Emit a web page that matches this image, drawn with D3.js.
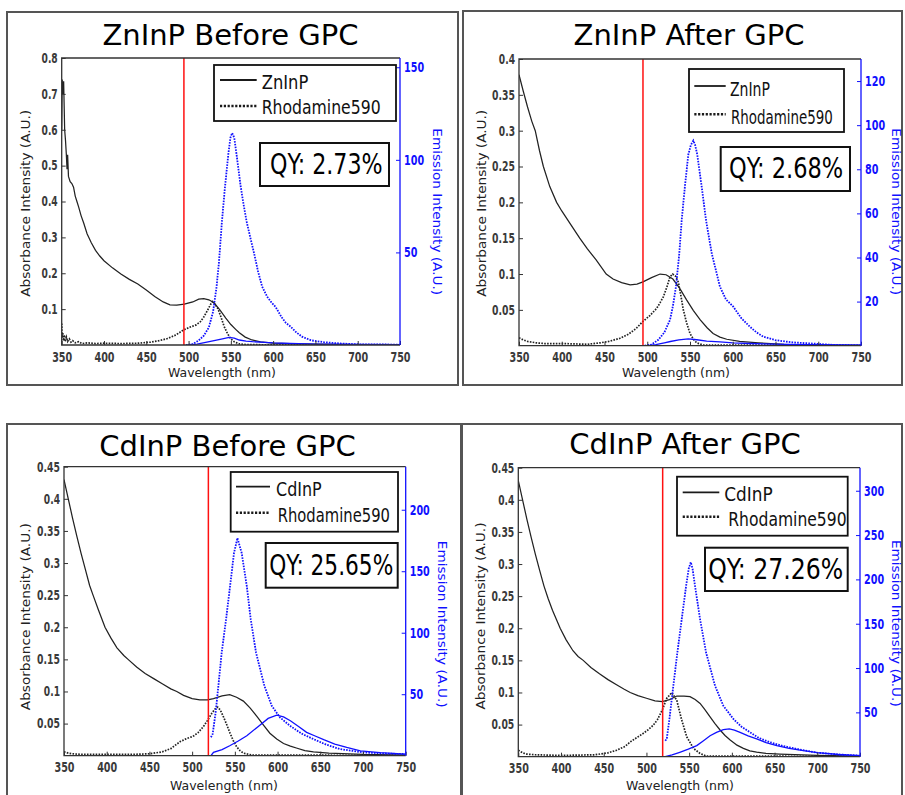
<!DOCTYPE html>
<html><head><meta charset="utf-8">
<script src="https://cdn.jsdelivr.net/npm/d3@7"></script>
<style>
html,body{margin:0;padding:0;background:#fff;}
svg{display:block;}
</style></head>
<body><svg id="chart" width="905" height="795"></svg>
<script>
// ---------------- DATA ----------------
const wavelengthTicks = [350,400,450,500,550,600,650,700,750];

// Panel titles / legend / QY
const panelTitles = ["ZnInP Before GPC","ZnInP After GPC","CdInP Before GPC","CdInP After GPC"];
const sampleNames = ["ZnInP","ZnInP","CdInP","CdInP"];
const referenceName = "Rhodamine590";
const qyLabels = ["QY: 2.73%","QY: 2.68%","QY: 25.65%","QY: 27.26%"];
const excitationLines = [494.5,495,519,519];

// Axis ticks
const absTicks1 = [0.1,0.2,0.3,0.4,0.5,0.6,0.7,0.8];
const absTicks2 = [0.05,0.1,0.15,0.2,0.25,0.3,0.35,0.4];
const absTicks3 = [0.05,0.1,0.15,0.2,0.25,0.3,0.35,0.4,0.45];
const absTicks4 = [0.05,0.1,0.15,0.2,0.25,0.3,0.35,0.4,0.45];
const emTicks1 = [50,100,150];
const emTicks2 = [20,40,60,80,100,120];
const emTicks3 = [50,100,150,200];
const emTicks4 = [50,100,150,200,250,300];
const absMax = [0.8,0.4,0.45,0.45];
const emMax = [155,130,235,326];

// Panel 1: ZnInP before GPC
const znBeforeAbsSample = [[350,0.60],[350.6,0.74],[351.5,0.70],[352.3,0.735],[353.5,0.60],[354.5,0.57],[355.5,0.53],[356.3,0.49],[357,0.53],[358,0.47],[360,0.455],[362,0.45],[364,0.44],[366,0.415],[368,0.40],[370,0.385],[373,0.36],[376,0.34],[380,0.31],[385,0.285],[390,0.264],[395,0.248],[400,0.235],[410,0.215],[420,0.198],[430,0.183],[440,0.17],[450,0.153],[460,0.135],[470,0.12],[478,0.112],[486,0.111],[495,0.114],[505,0.12],[512,0.128],[518,0.129],[524,0.126],[530,0.118],[537,0.098],[544,0.075],[550,0.057],[556,0.043],[560,0.034],[567,0.022],[575,0.014],[585,0.009],[600,0.005],[630,0.003],[700,0.001],[750,0.0005]];
const znBeforeAbsRef = [[350,0.06],[350.5,0.02],[351.2,0.035],[352,0.012],[353,0.028],[354,0.01],[355.5,0.022],[357,0.01],[359,0.017],[361,0.008],[363,0.012],[366,0.006],[370,0.009],[374,0.004],[380,0.006],[390,0.004],[400,0.005],[420,0.004],[440,0.005],[455,0.008],[465,0.012],[475,0.018],[485,0.028],[494,0.042],[502,0.05],[509,0.056],[514,0.065],[518,0.078],[522.5,0.097],[526,0.113],[528.4,0.121],[531,0.115],[535,0.1],[538,0.08],[542,0.052],[546,0.032],[550,0.017],[554,0.009],[560,0.003],[570,0.001],[600,0.0005],[750,0.0003]];
const znBeforeEmRef = [[497,0],[505,0.5],[512,2.5],[518,5],[524,9.5],[529,18],[533,31],[536,45],[539.5,67],[543,85],[547,103],[549.5,112],[551.5,114.5],[554,112],[557,102],[561.5,86],[565,76],[568.5,67],[573,58],[577.5,49.5],[582,40],[587,31.5],[593,26],[598,23],[603,20.5],[610,15],[615,12],[620.5,10],[627,7],[634,4.5],[645,2.5],[660,1.5],[680,0.8],[700,0.4],[750,0.2]];
const znBeforeEmSample = [[499,0],[510,0.5],[524.5,1.8],[533,2.6],[540,3.3],[548,4.1],[554,3.7],[560,2.7],[568,2.1],[575.5,1.8],[590,1.4],[600,1.1],[620,0.8],[650,0.5],[700,0.3],[750,0.2]];

// Panel 2: ZnInP after GPC
const znAfterAbsSample = [[350,0.378],[355,0.355],[360,0.333],[365,0.313],[369,0.30],[374,0.272],[378.5,0.25],[386,0.222],[394,0.20],[400,0.188],[410,0.17],[421,0.15],[430,0.135],[440,0.12],[452,0.10],[460,0.093],[470,0.088],[480,0.085],[488,0.086],[495,0.089],[505,0.095],[515,0.1],[522,0.099],[530,0.093],[538,0.08],[546,0.064],[554,0.049],[562,0.036],[570,0.025],[577,0.017],[585,0.012],[593,0.009],[608,0.006],[630,0.004],[660,0.002],[700,0.001],[750,0.0005]];
const znAfterAbsRef = [[350,0.011],[355,0.008],[360,0.006],[370,0.004],[380,0.003],[400,0.003],[430,0.002],[445,0.004],[455,0.006],[468,0.0103],[478,0.016],[487,0.024],[494.6,0.0335],[503,0.042],[511,0.052],[515,0.06],[518.8,0.068],[523,0.082],[526.6,0.096],[529.7,0.1],[533,0.097],[536.3,0.089],[539,0.072],[542.2,0.05],[546,0.032],[550,0.017],[554,0.009],[557.8,0.004],[565,0.001],[750,0.0005]];
const znAfterEmRef = [[497,0],[505,0.5],[513,2.7],[520,6],[526.6,11.7],[530,18],[533.6,26.8],[537.5,41.9],[540.3,57],[544,72],[548,86.6],[551,91],[553.9,93],[556,91],[558.5,86.6],[563.7,72],[568.7,57],[575.4,41.9],[585,26.8],[592,21],[600.6,17.7],[610,12.5],[620,8.6],[628,6],[635.7,4.1],[650,2.5],[670,1.5],[700,0.8],[720,0.3],[750,0.1]];
const znAfterEmSample = [[500,0],[510,0.5],[520,1.3],[527,1.9],[537,2.6],[548,3.1],[558,2.7],[569.5,2.1],[585,1.7],[600,1.3],[620,1],[650,0.7],[700,0.4],[750,0.2]];

// Panel 3: CdInP before GPC
const cdBeforeAbsSample = [[350,0.43],[355,0.40],[360,0.37],[365,0.342],[370,0.315],[375,0.29],[380,0.265],[384,0.25],[390,0.228],[398,0.20],[405,0.183],[412,0.168],[420,0.156],[425,0.15],[435,0.138],[445,0.128],[455,0.12],[465,0.112],[475,0.104],[482,0.1],[490,0.094],[500,0.089],[509,0.087],[518,0.087],[525,0.089],[535,0.093],[544,0.095],[552,0.091],[560,0.085],[568,0.074],[576,0.061],[584,0.047],[591,0.035],[599,0.026],[607,0.019],[615,0.015],[622,0.012],[632,0.008],[642,0.006],[660,0.004],[700,0.002],[750,0.001]];
const cdBeforeAbsRef = [[350,0.006],[355,0.004],[360,0.003],[370,0.002],[400,0.002],[430,0.002],[450,0.003],[465,0.006],[475,0.011],[486,0.022],[494,0.027],[501,0.03],[507,0.036],[513,0.045],[518,0.055],[523,0.066],[527,0.073],[530,0.0757],[533,0.071],[536.5,0.061],[540,0.05],[544.4,0.035],[548,0.024],[552,0.014],[556,0.008],[560,0.004],[570,0.001],[750,0.0005]];
const cdBeforeEmRef = [[522,15],[524,17.6],[527.5,35],[530.7,56.7],[534.6,83.8],[539.7,110.8],[544.4,137.8],[549,164.8],[553,177],[558,164.8],[564,137.8],[568.6,110.8],[574.8,83.8],[584.6,56.7],[593.2,40.5],[603,31],[614.6,24.3],[628,18],[641.9,13.5],[657,9],[673,5.4],[700,2.7],[725,1.8],[750,1.3]];
const cdBeforeEmSample = [[522,0],[525,2.7],[535,5],[544,8.1],[554,12],[564,16.2],[576,23],[589,30.3],[599,33],[607,31.5],[615,28.4],[625,23.5],[634,19],[644,16],[654,13],[667,9.5],[681,6.8],[697,4],[720,2.5],[750,1.3]];

// Panel 4: CdInP after GPC
const cdAfterAbsSample = [[350,0.43],[355,0.40],[360,0.37],[365,0.342],[370,0.315],[375,0.29],[380,0.266],[385,0.246],[390,0.228],[399,0.2],[406,0.182],[414,0.165],[420,0.156],[426,0.15],[435,0.139],[445,0.129],[455,0.12],[465,0.112],[474,0.105],[481,0.1],[490,0.095],[500,0.091],[510,0.087],[518.6,0.0857],[527,0.089],[535.5,0.0945],[544,0.0945],[551,0.0935],[557,0.089],[562.8,0.083],[568,0.074],[574.5,0.062],[580,0.052],[586.2,0.0416],[592,0.033],[598,0.026],[606,0.018],[613.5,0.013],[621,0.009],[629,0.007],[640,0.005],[656,0.004],[700,0.002],[750,0.001]];
const cdAfterAbsRef = [[350,0.01],[355,0.006],[360,0.004],[370,0.003],[400,0.002],[440,0.003],[455,0.006],[465,0.01],[475,0.016],[481,0.023],[489,0.03],[496,0.036],[502,0.042],[508,0.049],[513,0.058],[518.6,0.073],[523.8,0.091],[529.6,0.0997],[535.5,0.088],[541.3,0.057],[547.2,0.031],[555,0.013],[562.8,0.005],[570,0.001],[750,0.0005]];
const cdAfterEmRef = [[522,18],[523.8,20],[526.9,42.5],[531.5,80],[536.2,117.5],[541.3,155],[546.4,192.4],[549.5,212],[551.9,219.4],[554,212],[556.9,192.4],[562.8,155],[569.8,117.5],[580.3,80],[590,57.5],[601.8,42.5],[611,34],[621.3,27.5],[632,21],[644.7,16.3],[660,12],[676,8.8],[700,4.5],[725,2.5],[750,1.2]];
const cdAfterEmSample = [[522,0],[530,2],[539,5],[549,8.5],[558.9,12.5],[566,17.5],[574.5,23.7],[582,27.5],[590,30.5],[597,31.3],[603,30],[609.6,27.5],[619,23.5],[629,20],[640,16],[652.6,12.5],[667,9.5],[683.7,6.9],[700,4.5],[725,2.5],[750,1.2]];

// ---------------- LAYOUT ----------------
const layouts = [
  {frame:[7,12,458,385], L:61.7,R:400,T:58,B:345, titleX:230.5,titleY:45,
   leg:[214,65,396,121], l1y:80,l2y:106,lx1:220,lx2:256.7,t1x:261.7,t1y:89.3,t1w:46.6,t2x:261.7,t2y:114.3,t2w:119,
   qy:[260,143,389,186], qx:270,qyY:174,qw:112.7, xlab:[222,377], ylab:[25.7,203.3], rlab:[437.5,211.7]},
  {frame:[463,11,902,385], L:519,R:861,T:59,B:345.7, titleX:689,titleY:45,
   leg:[689,69,844,132], l1y:86,l2y:114.3,lx1:694.3,lx2:725.7,t1x:730,t1y:96,t1w:40,t2x:731,t2y:124.3,t2w:102,
   qy:[720.7,147,850,191], qx:729,qyY:178.3,qw:114.3, xlab:[676,377], ylab:[481.7,203.3], rlab:[896.7,211.7]},
  {frame:[7,424,461,805], L:64,R:405.7,T:466.7,B:755.7, titleX:227.5,titleY:455.7,
   leg:[230.7,472,398,531.7], l1y:486.7,l2y:512.7,lx1:236,lx2:270,t1x:276,t1y:496,t1w:45.7,t2x:277.7,t2y:521.7,t2w:112.3,
   qy:[265.7,543,397.7,587.7], qx:269.3,qyY:575,qw:124, xlab:[224,790], ylab:[25.7,616.7], rlab:[442,624.2]},
  {frame:[462,424,902,805], L:518.3,R:860,T:467.7,B:756.7, titleX:685,titleY:454,
   leg:[677,476.7,847.7,535.7], l1y:492.3,l2y:516.7,lx1:682.7,lx2:719.3,t1x:724.3,t1y:501,t1w:48.4,t2x:728.3,t2y:526,t2w:118.4,
   qy:[705,547.7,847.7,591], qx:708.3,qyY:579,qw:135, xlab:[680,790], ylab:[481,616], rlab:[896.5,623.3]}
];

const panelSeries = [
  [znBeforeAbsSample, znBeforeAbsRef, znBeforeEmRef, znBeforeEmSample],
  [znAfterAbsSample, znAfterAbsRef, znAfterEmRef, znAfterEmSample],
  [cdBeforeAbsSample, cdBeforeAbsRef, cdBeforeEmRef, cdBeforeEmSample],
  [cdAfterAbsSample, cdAfterAbsRef, cdAfterEmRef, cdAfterEmSample]
];
const absTickSets = [absTicks1,absTicks2,absTicks3,absTicks4];
const emTickSets = [emTicks1,emTicks2,emTicks3,emTicks4];

const BLUE = "#1010ff";
const BLACK = "#1a1a1a";
const narrow = "'Liberation Sans Narrow','DejaVu Sans Condensed','Liberation Sans',sans-serif";
const tickFont = "'DejaVu Sans',sans-serif";

const svg = d3.select("#chart");
svg.append("rect").attr("width",905).attr("height",795).attr("fill","#fff");

function fmt(d){ return String(+d.toFixed(3)); }
function tickWidth(s){
  let w = 0;
  for (const c of s) w += (c === ".") ? 2.8 : 6.7;
  return w;
}
// horizontally squeeze/stretch a text element around its anchor x to a target width
function fitWidth(node, target){
  const n = node.getComputedTextLength();
  if (!n) return;
  const s = target / n;
  const x0 = parseFloat(node.getAttribute("x")) || 0;
  const prev = node.getAttribute("transform") || "";
  node.setAttribute("transform", `${prev} translate(${x0},0) scale(${s},1) translate(${-x0},0)`.trim());
}

function drawPanel(i){
  const p = layouts[i];
  const [absS, absR, emR, emS] = panelSeries[i];
  const g = svg.append("g");

  // frame
  g.append("rect").attr("x",p.frame[0]).attr("y",p.frame[1])
    .attr("width",p.frame[2]-p.frame[0]).attr("height",p.frame[3]-p.frame[1])
    .attr("fill","none").attr("stroke","#555").attr("stroke-width",2);

  // title
  g.append("text").attr("x",p.titleX).attr("y",p.titleY).attr("text-anchor","middle")
    .style("font-family","'DejaVu Sans',Verdana,sans-serif").style("font-size","29px")
    .attr("fill","#000").text(panelTitles[i]);

  const x = d3.scaleLinear().domain([350,750]).range([p.L,p.R]);
  const yL = d3.scaleLinear().domain([0,absMax[i]]).range([p.B,p.T]);
  const yR = d3.scaleLinear().domain([0,emMax[i]]).range([p.B,p.T]);

  const clipId = "clip"+i;
  svg.append("clipPath").attr("id",clipId).append("rect")
    .attr("x",p.L).attr("y",p.T).attr("width",p.R-p.L).attr("height",p.B-p.T);
  const plot = g.append("g").attr("clip-path",`url(#${clipId})`);

  const lineL = d3.line().x(d=>x(d[0])).y(d=>yL(d[1]));
  const lineR = d3.line().x(d=>x(d[0])).y(d=>yR(d[1]));

  plot.append("path").datum(absR).attr("d",lineL).attr("fill","none")
    .attr("stroke","#222").attr("stroke-width",1.7).attr("stroke-dasharray","1.6,1.3");
  plot.append("path").datum(absS).attr("d",lineL).attr("fill","none")
    .attr("stroke","#222").attr("stroke-width",1.25);
  plot.append("path").datum(emS).attr("d",lineR).attr("fill","none")
    .attr("stroke",BLUE).attr("stroke-width",1.3);
  plot.append("path").datum(emR).attr("d",lineR).attr("fill","none")
    .attr("stroke",BLUE).attr("stroke-width",1.8).attr("stroke-dasharray","1.6,1.2");

  // excitation line
  plot.append("line").attr("x1",x(excitationLines[i])).attr("x2",x(excitationLines[i]))
    .attr("y1",p.T).attr("y2",p.B).attr("stroke","#ff1010").attr("stroke-width",1.5);

  // axes
  const ax = g.append("g").attr("transform",`translate(0,${p.B})`)
    .call(d3.axisBottom(x).tickValues(wavelengthTicks).tickSizeInner(-4).tickSizeOuter(0).tickPadding(7));
  const al = g.append("g").attr("transform",`translate(${p.L},0)`)
    .call(d3.axisLeft(yL).tickValues(absTickSets[i]).tickFormat(fmt).tickSizeInner(-4).tickSizeOuter(0).tickPadding(4));
  const ar = g.append("g").attr("transform",`translate(${p.R},0)`)
    .call(d3.axisRight(yR).tickValues(emTickSets[i]).tickSizeInner(-4).tickSizeOuter(0).tickPadding(4));
  [ax,al,ar].forEach(a=>{
    a.select(".domain").remove();
    a.selectAll("text").style("font-family",tickFont).style("font-size","13.5px").style("font-weight","bold")
      .each(function(){ fitWidth(this, tickWidth(this.textContent)); });
  });
  ax.selectAll("line").attr("stroke","#333");
  al.selectAll("line").attr("stroke","#333");
  ax.selectAll("text").attr("fill","#3a3a3a");
  al.selectAll("text").attr("fill","#3a3a3a");
  ar.selectAll("line").attr("stroke",BLUE);
  ar.selectAll("text").attr("fill",BLUE);

  // box
  g.append("path").attr("d",`M${p.R},${p.T}H${p.L}V${p.B}H${p.R}`).attr("fill","none")
    .attr("stroke","#333").attr("stroke-width",1.3);
  g.append("line").attr("x1",p.R).attr("x2",p.R).attr("y1",p.T).attr("y2",p.B)
    .attr("stroke",BLUE).attr("stroke-width",1.3);

  // axis labels
  const xl = g.append("text").attr("x",p.xlab[0]).attr("y",p.xlab[1]).attr("text-anchor","middle")
    .style("font-family","'DejaVu Sans',sans-serif").style("font-size","13px").attr("fill","#222")
    .text("Wavelength (nm)");
  fitWidth(xl.node(),108);
  const yl = g.append("text").attr("transform",`translate(${p.ylab[0]},${p.ylab[1]}) rotate(-90)`)
    .attr("text-anchor","middle").attr("dy","0.35em")
    .style("font-family","'DejaVu Sans',sans-serif").style("font-size","12.5px").attr("fill","#222")
    .text("Absorbance Intensity (A.U.)");
  fitWidth(yl.node(),187);
  const rl = g.append("text").attr("transform",`translate(${p.rlab[0]},${p.rlab[1]}) rotate(90)`)
    .attr("text-anchor","middle").attr("dy","0.35em")
    .style("font-family","'DejaVu Sans',sans-serif").style("font-size","12px").attr("fill",BLUE)
    .text("Emission Intensity (A.U.)");
  fitWidth(rl.node(),167);

  // legend
  g.append("rect").attr("x",p.leg[0]).attr("y",p.leg[1]).attr("width",p.leg[2]-p.leg[0]).attr("height",p.leg[3]-p.leg[1])
    .attr("fill","#fff").attr("stroke","#111").attr("stroke-width",1.8);
  g.append("line").attr("x1",p.lx1).attr("x2",p.lx2).attr("y1",p.l1y).attr("y2",p.l1y)
    .attr("stroke",BLACK).attr("stroke-width",1.8);
  g.append("line").attr("x1",p.lx1).attr("x2",p.lx2).attr("y1",p.l2y).attr("y2",p.l2y)
    .attr("stroke",BLACK).attr("stroke-width",2.6).attr("stroke-dasharray","2.2,1.6");
  const lt1 = g.append("text").attr("x",p.t1x).attr("y",p.t1y).style("font-family",narrow).style("font-size","20px")
    .attr("fill","#111").text(sampleNames[i]);
  fitWidth(lt1.node(),p.t1w);
  const lt2 = g.append("text").attr("x",p.t2x).attr("y",p.t2y).style("font-family",narrow).style("font-size","20px")
    .attr("fill","#111").text(referenceName);
  fitWidth(lt2.node(),p.t2w);

  // QY box
  g.append("rect").attr("x",p.qy[0]).attr("y",p.qy[1]).attr("width",p.qy[2]-p.qy[0]).attr("height",p.qy[3]-p.qy[1])
    .attr("fill","#fff").attr("stroke","#111").attr("stroke-width",2);
  const qt = g.append("text").attr("x",p.qx).attr("y",p.qyY).style("font-family",narrow).style("font-size","29px")
    .attr("fill","#000").text(qyLabels[i]);
  fitWidth(qt.node(),p.qw);
}

for (let i=0;i<4;i++) drawPanel(i);
</script>
</body></html>
